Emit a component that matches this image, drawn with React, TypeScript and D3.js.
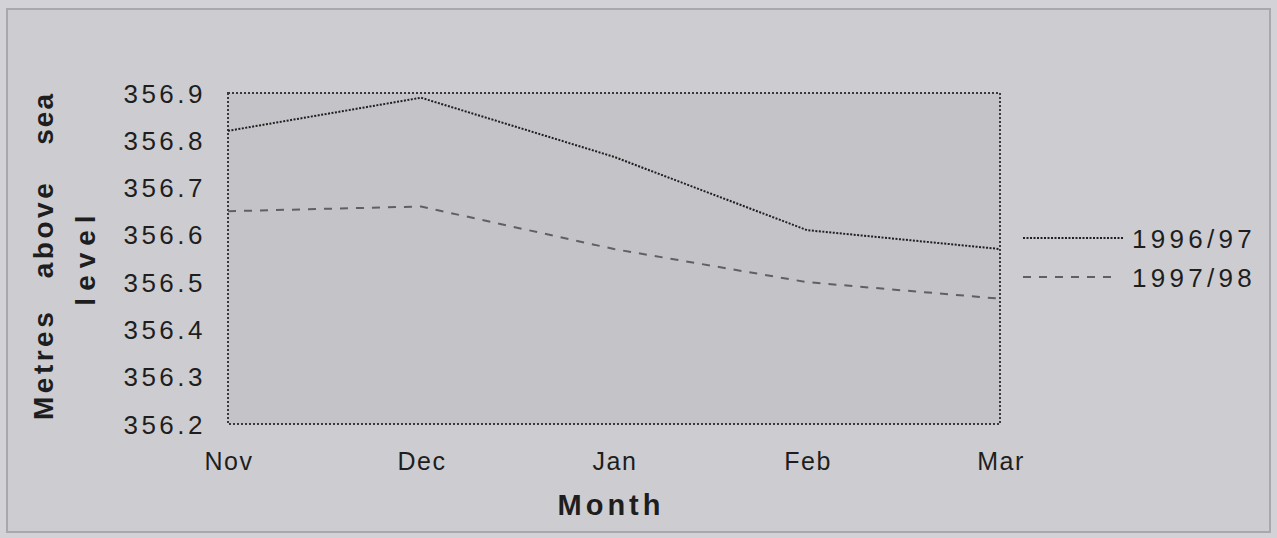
import React from "react";
import * as d3 from "d3";

const months = ["Nov", "Dec", "Jan", "Feb", "Mar"];
const series9697 = [356.82, 356.89, 356.765, 356.61, 356.57];
const series9798 = [356.65, 356.66, 356.57, 356.5, 356.465];
const yTicks = [356.2, 356.3, 356.4, 356.5, 356.6, 356.7, 356.8, 356.9];
const seriesNames = ["1996/97", "1997/98"];

const W = 1277, H = 538;
const plot = { left: 228, right: 1000, top: 93, bottom: 424 };

export default function App() {
  const x = d3.scalePoint<string>().domain(months).range([plot.left, plot.right]);
  const y = d3.scaleLinear().domain([356.2, 356.9]).range([plot.bottom, plot.top]);
  const line = d3.line<number>().x((_, i) => x(months[i])!).y((d) => y(d));
  const font = "'Liberation Sans', Arial, sans-serif";
  const ink = "#1e1e1e";
  return (
    <div style={{ position: "absolute", left: 0, top: 0 }}>
      <svg width={W} height={H} style={{ display: "block" }}>
        <rect x={0} y={0} width={W} height={H} fill="#d3d3d7" />
        <rect x={7} y={9} width={1263} height={523} fill="#cdcdd1" stroke="#a9a9ad" strokeWidth={2} />
        <rect x={plot.left} y={plot.top} width={plot.right - plot.left} height={plot.bottom - plot.top}
          fill="#c4c4c8" stroke="#3a3a3a" strokeWidth={2} strokeDasharray="2 2" />
        <path d={line(series9697)!} fill="none" stroke="#202020" strokeWidth={2} strokeDasharray="2 1.5" />
        <path d={line(series9798)!} fill="none" stroke="#606064" strokeWidth={2} strokeDasharray="8 8" />
        {yTicks.map((t) => (
          <text key={t} x={206} y={y(t) + 9.5} textAnchor="end" fontFamily={font} fontSize={26}
            letterSpacing={3.5} fill={ink}>{t.toFixed(1)}</text>
        ))}
        {months.map((m) => (
          <text key={m} x={x(m)! + 1} y={470} textAnchor="middle" fontFamily={font} fontSize={25}
            letterSpacing={1.5} fill={ink}>{m}</text>
        ))}
        <text x={611} y={515} textAnchor="middle" fontFamily={font} fontSize={29}
          fontWeight="bold" letterSpacing={4} fill={ink}>Month</text>
        <g transform="translate(53,0) rotate(-90)">
          <text x={-420} y={0} textAnchor="start" fontFamily={font} fontSize={28} fontWeight="bold"
            letterSpacing={3.5} fill={ink}>Metres</text>
          <text x={-229} y={0} textAnchor="middle" fontFamily={font} fontSize={28} fontWeight="bold"
            letterSpacing={3.5} fill={ink}>above</text>
          <text x={-92} y={0} textAnchor="end" fontFamily={font} fontSize={28} fontWeight="bold"
            letterSpacing={2} fill={ink}>sea</text>
        </g>
        <g transform="translate(95,0) rotate(-90)">
          <text x={-257} y={0} textAnchor="middle" fontFamily={font} fontSize={28} fontWeight="bold"
            letterSpacing={7} fill={ink}>level</text>
        </g>
        {seriesNames.map((n, i) => {
          const ly = i === 0 ? 238 : 277;
          return (
            <g key={n}>
              <line x1={1023} x2={i === 0 ? 1123 : 1112} y1={ly} y2={ly}
                stroke={i === 0 ? "#202020" : "#606064"} strokeWidth={2}
                strokeDasharray={i === 0 ? "2 1.5" : "8 8"} />
              <text x={1132} y={ly + 9.5} fontFamily={font} fontSize={26} letterSpacing={4.3}
                fill={ink}>{n}</text>
            </g>
          );
        })}
      </svg>
    </div>
  );
}
